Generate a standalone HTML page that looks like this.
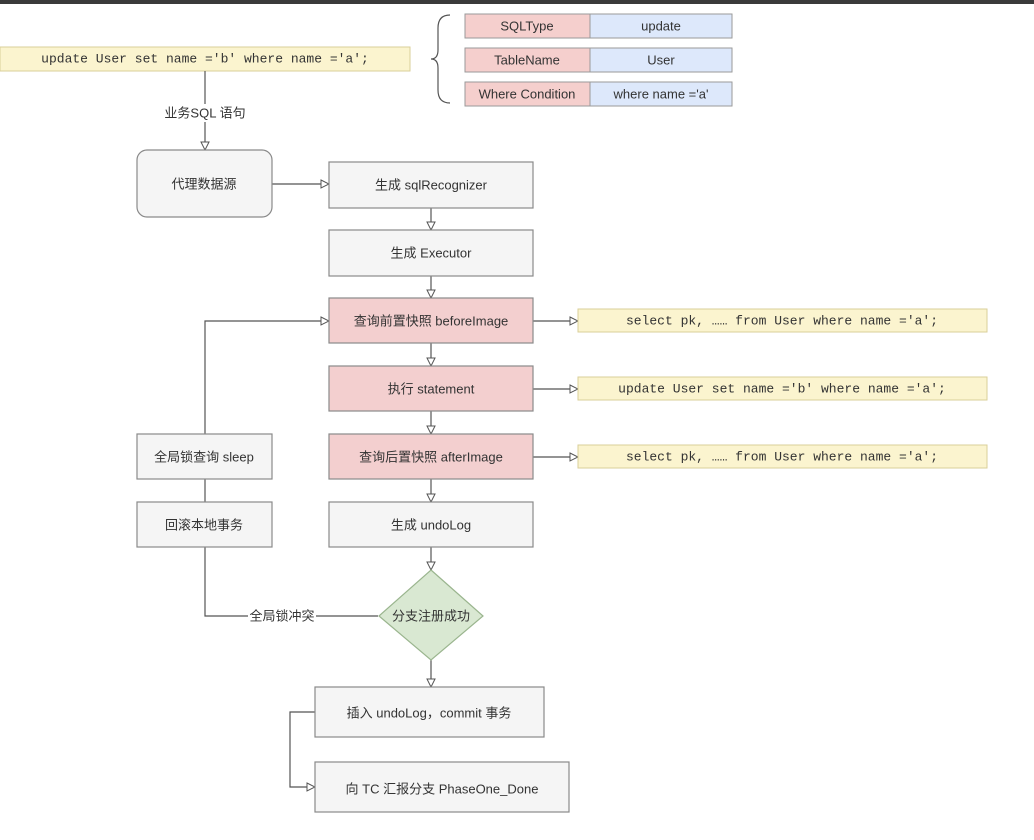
<!DOCTYPE html>
<html><head><meta charset="utf-8"><style>
html,body{margin:0;padding:0;background:#fff;}
svg{display:block;}
text{font-family:"Liberation Sans","Noto Sans CJK SC",sans-serif;font-size:13px;fill:#333;text-anchor:middle;dominant-baseline:central;}
.m{font-family:"Liberation Mono","Noto Sans CJK SC",monospace;font-size:13px;}
</style></head><body>
<svg width="1034" height="840" viewBox="0 0 1034 840" xmlns="http://www.w3.org/2000/svg">
<defs><marker id="a" markerWidth="10" markerHeight="10" refX="9" refY="5" orient="auto" markerUnits="userSpaceOnUse"><path d="M1,1 L9,5 L1,9 Z" fill="#fff" stroke="#555" stroke-width="1"/></marker></defs>
<rect x="0" y="0" width="1034" height="4" fill="#3a3a3a"/>
<!-- top sql -->
<rect x="0" y="47" width="410" height="24" fill="#fbf4cf" stroke="#d9cf9a"/>
<text class="m" x="205" y="59">update User set name ='b' where name ='a';</text>
<!-- brace -->
<path d="M450,15 Q438,15 438,28 L438,50 Q438,59 431,59 Q438,59 438,68 L438,90 Q438,103 450,103" fill="none" stroke="#555" stroke-width="1.2"/>
<g stroke="#9a9a9a">
<rect x="465" y="14" width="125" height="24" fill="#f5cfcd"/><rect x="590" y="14" width="142" height="24" fill="#dde8fb"/>
<rect x="465" y="48" width="125" height="24" fill="#f5cfcd"/><rect x="590" y="48" width="142" height="24" fill="#dde8fb"/>
<rect x="465" y="82" width="125" height="24" fill="#f5cfcd"/><rect x="590" y="82" width="142" height="24" fill="#dde8fb"/>
</g>
<text x="527" y="26">SQLType</text><text x="661" y="26">update</text>
<text x="527" y="60">TableName</text><text x="661" y="60">User</text>
<text x="527" y="94">Where Condition</text><text x="661" y="94">where name ='a'</text>
<g stroke="#555" stroke-width="1.2" fill="none">
<line x1="205" y1="71" x2="205" y2="150" marker-end="url(#a)"/>
<line x1="272" y1="184" x2="329" y2="184" marker-end="url(#a)"/>
<line x1="431" y1="208" x2="431" y2="230" marker-end="url(#a)"/>
<line x1="431" y1="276" x2="431" y2="298" marker-end="url(#a)"/>
<line x1="431" y1="343" x2="431" y2="366" marker-end="url(#a)"/>
<line x1="431" y1="411" x2="431" y2="434" marker-end="url(#a)"/>
<line x1="431" y1="479" x2="431" y2="502" marker-end="url(#a)"/>
<line x1="431" y1="547" x2="431" y2="570" marker-end="url(#a)"/>
<line x1="431" y1="660" x2="431" y2="687" marker-end="url(#a)"/>
<line x1="533" y1="321" x2="578" y2="321" marker-end="url(#a)"/>
<line x1="533" y1="389" x2="578" y2="389" marker-end="url(#a)"/>
<line x1="533" y1="457" x2="578" y2="457" marker-end="url(#a)"/>
<polyline points="205,434 205,321 329,321" marker-end="url(#a)"/>
<line x1="205" y1="479" x2="205" y2="502"/>
<polyline points="205,547 205,616 378,616"/>
<polyline points="315,712 290,712 290,787 315,787" marker-end="url(#a)"/>
</g>
<rect x="150" y="104" width="110" height="18" fill="#fff"/>
<text x="205" y="113">业务SQL 语句</text>
<rect x="248" y="607" width="68" height="18" fill="#fff"/>
<text x="282" y="616">全局锁冲突</text>
<g stroke="#8a8a8a" stroke-width="1.2">
<rect x="137" y="150" width="135" height="67" rx="10" fill="#f5f5f5"/>
<rect x="329" y="162" width="204" height="46" fill="#f5f5f5"/>
<rect x="329" y="230" width="204" height="46" fill="#f5f5f5"/>
<rect x="329" y="298" width="204" height="45" fill="#f3cfcf"/>
<rect x="329" y="366" width="204" height="45" fill="#f3cfcf"/>
<rect x="329" y="434" width="204" height="45" fill="#f3cfcf"/>
<rect x="329" y="502" width="204" height="45" fill="#f5f5f5"/>
<rect x="137" y="434" width="135" height="45" fill="#f5f5f5"/>
<rect x="137" y="502" width="135" height="45" fill="#f5f5f5"/>
<path d="M431,570 L483,616 L431,660 L379,616 Z" fill="#d9e8d2" stroke="#9ab58e"/>
<rect x="315" y="687" width="229" height="50" fill="#f5f5f5"/>
<rect x="315" y="762" width="254" height="50" fill="#f5f5f5"/>
</g>
<g stroke="#d9cf9a" fill="#fbf4cf">
<rect x="578" y="309" width="409" height="23"/>
<rect x="578" y="377" width="409" height="23"/>
<rect x="578" y="445" width="409" height="23"/>
</g>
<text class="m" x="782" y="321">select pk, …… from User where name ='a';</text>
<text class="m" x="782" y="389">update User set name ='b' where name ='a';</text>
<text class="m" x="782" y="457">select pk, …… from User where name ='a';</text>
<text x="204" y="184">代理数据源</text>
<text x="431" y="185">生成 sqlRecognizer</text>
<text x="431" y="253">生成 Executor</text>
<text x="431" y="321">查询前置快照 beforeImage</text>
<text x="431" y="389">执行 statement</text>
<text x="431" y="457">查询后置快照 afterImage</text>
<text x="431" y="525">生成 undoLog</text>
<text x="204" y="457">全局锁查询 sleep</text>
<text x="204" y="525">回滚本地事务</text>
<text x="431" y="616">分支注册成功</text>
<text x="429" y="713">插入 undoLog，commit 事务</text>
<text x="442" y="789">向 TC 汇报分支 PhaseOne_Done</text>
</svg>
</body></html>
